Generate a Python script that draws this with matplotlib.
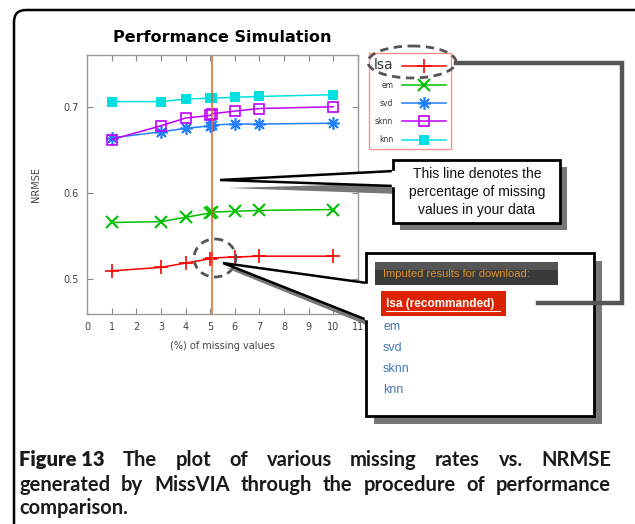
import matplotlib
matplotlib.use("Agg")
from matplotlib import pyplot as plt
from matplotlib.patches import FancyBboxPatch, Rectangle, Polygon, Ellipse

# missing rate (%) of each simulation run; 5.08 is the user's own data
rates = [1, 3, 4, 5, 5.08, 6, 7, 10]
user_rate = 5.08

lsa = [0.510, 0.514, 0.519, 0.524, 0.525, 0.526, 0.527, 0.527]
em = [0.566, 0.567, 0.572, 0.577, 0.578, 0.579, 0.580, 0.581]
svd = [0.664, 0.671, 0.675, 0.678, 0.679, 0.680, 0.680, 0.681]
sknn = [0.662, 0.678, 0.687, 0.690, 0.692, 0.695, 0.698, 0.700]
knn = [0.706, 0.706, 0.709, 0.710, 0.710, 0.711, 0.712, 0.714]

method_names = ["lsa", "em", "svd", "sknn", "knn"]
xticks = list(range(0, 12))
yticks = [0.5, 0.6, 0.7]

callout_text = "This line denotes the\npercentage of missing\nvalues in your data"
panel_title = "Imputed results for download:"
best_label = "lsa (recommanded)"
other_links = ["em", "svd", "sknn", "knn"]
caption_lines = [
    "The plot of various missing rates vs. NRMSE",
    "generated by MissVIA through the procedure of performance",
    "comparison.",
]

W, H = 635, 524
fig = plt.figure(figsize=(W / 100, H / 100), dpi=100)


def fx(px):
    return px / W


def fy(py):
    return 1 - py / H


# ---- the plot itself
ax = fig.add_axes([fx(87), fy(314), fx(358) - fx(87), fy(55) - fy(314)])
styles = [
    dict(color="#ff0000", marker="+", ms=10, mew=1.2),
    dict(color="#00c000", marker="x", ms=8, mew=1.5),
    dict(color="#2080ff", marker=(8, 2, 0), ms=9, mew=1.2),
    dict(color="#c000ff", marker="s", ms=7, mfc="none", mew=1.2),
    dict(color="#00e0e0", marker="s", ms=7, mew=0),
]
handles = []
for vals, st in zip([lsa, em, svd, sknn, knn], styles):
    h, = ax.plot(rates, vals, lw=1.1, **st)
    handles.append(h)
ax.axvline(user_rate, color="#e0622e", lw=1.1)

ax.set_xlim(0, 11)
ax.set_ylim(0.46, 0.76)
ax.set_xticks(xticks)
ax.set_yticks(yticks)
ax.tick_params(direction="in", top=True, right=True, length=4, width=0.8,
               color="#888888", labelsize=7, labelcolor="#444444", pad=6)
for s in ax.spines.values():
    s.set_color("#999999")
    s.set_linewidth(1)
ax.set_xlabel("(%) of missing values", fontsize=7, color="#444444", labelpad=6)
ax.set_ylabel("NRMSE", fontsize=7, color="#444444", labelpad=16)
ax.set_title("Performance Simulation", fontsize=11.5, fontweight="bold", pad=9)

leg = fig.legend(handles, method_names, loc="upper left",
                 bbox_to_anchor=(fx(369), fy(53)), markerfirst=False,
                 fontsize=5.5, handlelength=5.8, labelspacing=1.2,
                 borderpad=0.6, fancybox=False, framealpha=1,
                 edgecolor="#ff9090", borderaxespad=0, handletextpad=1.1)
leg.get_frame().set_linewidth(1)
leg.get_texts()[0].set_fontsize(10)
for t in leg.get_texts():
    t.set_color("#333333")

# ---- overlay in pixel coordinates for the annotations
ov = fig.add_axes([0, 0, 1, 1], zorder=10)
ov.set_xlim(0, W)
ov.set_ylim(H, 0)
ov.axis("off")

# outer rounded frame
ov.add_patch(FancyBboxPatch((14, 10), 640, 530, boxstyle="round,pad=0,rounding_size=12",
                            fc="none", ec="black", lw=1.8))

# dashed marks
ov.add_patch(Ellipse((412, 62), 88, 32, fc="none", ec="#555555", lw=2, ls=(0, (3, 2))))
ov.add_patch(Ellipse((215, 258), 42, 38, fc="none", ec="#555555", lw=2, ls=(0, (3, 2))))

# gray elbow arrow from legend to the recommended result
ov.plot([456, 622, 622, 538], [63, 63, 303, 303], color="#555555", lw=3.2,
        solid_joinstyle="miter")
ov.add_patch(Polygon([(513, 303), (540, 294), (540, 312)], closed=True,
                     fc="#555555", ec="#555555"))

# callout 1
ov.add_patch(Polygon([(228, 188), (400, 183), (400, 194)], closed=True,
                     fc="#777777", ec="none"))
ov.add_patch(Rectangle((400, 167), 167, 63, fc="#777777", ec="none"))
ov.add_patch(Polygon([(220, 180), (394, 171), (394, 186)], closed=True,
                     fc="white", ec="black", lw=1.8, joinstyle="miter"))
ov.add_patch(Rectangle((393, 160), 167, 63, fc="white", ec="black", lw=2))
ov.plot([393, 393], [172, 185], color="white", lw=2.5)
ov.text(477, 192, callout_text, ha="center", va="center", fontsize=10,
        family="Liberation Sans", linespacing=1.35, color="#111111")

# callout 2
ov.add_patch(Polygon([(226, 268), (374, 292), (374, 328)], closed=True,
                     fc="#777777", ec="none"))
ov.add_patch(Rectangle((374, 261), 228, 163, fc="#777777", ec="none"))
ov.add_patch(Polygon([(223, 263), (367, 283), (367, 320)], closed=True,
                     fc="white", ec="black", lw=1.8, joinstyle="miter"))
ov.add_patch(Rectangle((366, 253), 228, 163, fc="white", ec="black", lw=2))
ov.plot([366, 366], [285, 318], color="white", lw=2.5)
ov.add_patch(Rectangle((375, 262), 183, 23, fc="#3a3a3a", ec="none"))
ov.add_patch(Rectangle((375, 262), 183, 8, fc="#555555", ec="none"))
ov.text(383, 274, panel_title, ha="left", va="center", fontsize=8,
        family="Liberation Sans", color="#e0922e")
ov.add_patch(Rectangle((381, 291), 125, 25, fc="#dd2200", ec="none"))
ov.text(386, 304, best_label, ha="left", va="center", fontsize=8.5,
        family="Liberation Sans", color="white", fontweight="bold")
ov.plot([386, 500], [311, 311], color="white", lw=0.8)
for i, name in enumerate(other_links):
    ov.text(383, 327 + i * 21, name, ha="left", va="center", fontsize=9,
            family="Liberation Sans", color="#4a78b4")

# caption, justified like the journal layout
renderer = fig.canvas.get_renderer()
baselines = [466, 491, 514]
cap_font = dict(fontsize=14.5, family="Lato", color="#1a1a1a", va="baseline")
for li, (line, yb) in enumerate(zip(caption_lines, baselines)):
    words = line.split()
    if li == 0:
        words = ["Figure 13"] + words
    objs = []
    for j, w in enumerate(words):
        wt = "heavy" if (li == 0 and j == 0) else "bold"
        objs.append(ov.text(0, yb, w, fontweight=wt, **cap_font))
    widths = [o.get_window_extent(renderer).width for o in objs]
    left, right = 19, 611
    if li < len(caption_lines) - 1:
        gap = (right - left - sum(widths)) / (len(objs) - 1)
    else:
        gap = 5
    x = left
    for o, w in zip(objs, widths):
        o.set_x(x)
        x += w + gap

fig.savefig("out.png", dpi=100)
